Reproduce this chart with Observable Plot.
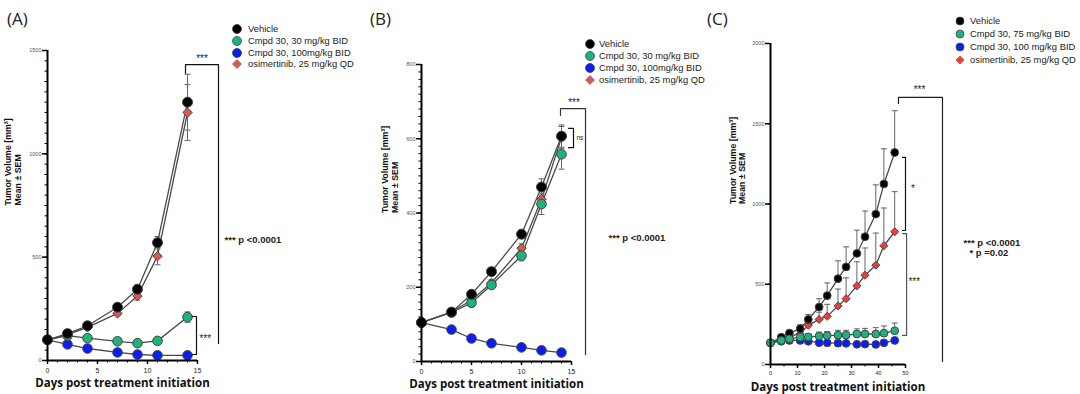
<!DOCTYPE html>
<html><head><meta charset="utf-8">
<script src="https://cdn.jsdelivr.net/npm/d3@7"></script>
<script src="https://cdn.jsdelivr.net/npm/@observablehq/plot@0.6"></script>
<style>
body{margin:0;background:#fff;}
#root{position:relative;width:1080px;height:394px;overflow:hidden;font-family:"Liberation Sans",Arial,sans-serif;background:#fff;}
.abs{position:absolute;white-space:nowrap;}
.title{font-family:"Open Sans",sans-serif;font-size:17px;color:#222;line-height:1;}
.leg{font-size:9.4px;color:#222;line-height:1;}
</style></head><body><div id="root"></div>
<script>
// ---------- Panel A ----------
const daysA = [0, 2, 4, 7, 9, 11, 14];
const vehA = [100, 130, 168, 258, 345, 570, 1250];
const vehA_sem = [5, 8, 10, 15, 20, 30, 135];
const c30A = [100, 120, 108, 93, 84, 95, 210];
const c30A_sem = [5, 6, 8, 8, 8, 10, 25];
const c100A = [100, 78, 58, 39, 29, 25, 25];
const c100A_sem = [4, 4, 4, 3, 3, 3, 3];
const osiA = [100, 125, 160, 228, 312, 505, 1200];
const osiA_sem = [5, 8, 10, 12, 20, 42, 135];
const legendA = ["Vehicle", "Cmpd 30, 30 mg/kg BID", "Cmpd 30, 100mg/kg BID", "osimertinib, 25 mg/kg QD"];
const yTicksA = [0, 500, 1000, 1500];
const xTicksA = [0, 5, 10, 15];

// ---------- Panel B ----------
const daysB = [0, 3, 5, 7, 10, 12, 14];
const vehB = [105, 133, 181, 242, 343, 470, 607];
const vehB_sem = [4, 6, 8, 8, 12, 22, 30];
const c30B = [105, 132, 158, 206, 285, 424, 558];
const c30B_sem = [4, 5, 7, 8, 14, 28, 40];
const c100B = [105, 86, 62, 49, 38, 30, 24];
const c100B_sem = [3, 3, 3, 2, 2, 2, 2];
const osiB = [105, 134, 165, 212, 305, 437, 603];
const osiB_sem = [4, 5, 7, 8, 12, 22, 30];
const legendB = ["Vehicle", "Cmpd 30, 30 mg/kg BID", "Cmpd 30, 100mg/kg BID", "osimertinib, 25 mg/kg  QD"];
const yTicksB = [0, 200, 400, 600, 800];
const xTicksB = [0, 5, 10, 15];

// ---------- Panel C ----------
const daysC = [0, 4, 7, 11, 14, 18, 21, 25, 28, 32, 35, 39, 42, 46];
const vehC = [135, 170, 196, 223, 281, 358, 429, 535, 608, 692, 796, 937, 1125, 1321];
const vehC_sem = [8, 12, 15, 25, 31, 52, 79, 111, 125, 145, 160, 182, 219, 260];
const c75C = [135, 150, 160, 170, 172, 177, 180, 183, 183, 190, 190, 190, 195, 210];
const c75C_sem = [8, 10, 12, 15, 20, 25, 25, 30, 30, 32, 35, 40, 45, 48];
const c100C = [135, 145, 150, 150, 145, 136, 135, 133, 132, 126, 127, 125, 135, 150];
const c100C_sem = [5, 6, 7, 8, 8, 8, 8, 8, 8, 8, 8, 8, 10, 12];
const osiC = [135, 160, 175, 192, 244, 281, 300, 365, 410, 490, 556, 619, 740, 827];
const osiC_sem = [8, 10, 12, 20, 30, 45, 75, 105, 130, 150, 170, 200, 235, 250];
const legendC = ["Vehicle", "Cmpd 30, 75 mg/kg BID", "Cmpd 30, 100 mg/kg BID", "osimertinib, 25 mg/kg QD"];
const yTicksC = [0, 500, 1000, 1500, 2000];
const xTicksC = [0, 10, 20, 30, 40, 50];

// significance annotations (data units)
const bracketsA = [
  {pts: [[13.8, 1390], [13.8, 1432], [17.1, 1432], [17.1, 82]], stroke: "#111"},
  {pts: [[14.5, 213], [14.9, 213], [14.9, 29], [14.5, 29]], stroke: "#111"}
];
const labelsA = [
  {x: 15.45, y: 1462, t: "***", a: "middle", s: 10, w: "normal"},
  {x: 15.2, y: 104, t: "***", a: "start", s: 10, w: "normal"},
  {x: 17.7, y: 581, t: "*** p <0.0001", a: "start", s: 9.5, w: "bold"}
];
const bracketsB = [
  {pts: [[13.9, 663], [13.9, 681], [16.4, 681], [16.4, 19]], stroke: "#333"},
  {pts: [[14.7, 628], [15.2, 628], [15.2, 576], [14.7, 576]], stroke: "#111"}
];
const labelsB = [
  {x: 15.25, y: 697, t: "***", a: "middle", s: 10, w: "normal"},
  {x: 15.5, y: 601, t: "ns", a: "start", s: 6.5, w: "normal"},
  {x: 18.7, y: 334, t: "*** p <0.0001", a: "start", s: 9.5, w: "bold"}
];
const bracketsC = [
  {pts: [[47.4, 1626], [47.4, 1664], [63.7, 1664], [63.7, 19]], stroke: "#222"},
  {pts: [[48.9, 1290], [50.0, 1290], [50.0, 835], [48.9, 835]], stroke: "#111"},
  {pts: [[48.9, 816], [50.4, 816], [50.4, 181], [48.9, 181]], stroke: "#555"}
];
const labelsC = [
  {x: 55.2, y: 1710, t: "***", a: "middle", s: 10, w: "normal"},
  {x: 52.0, y: 1092, t: "*", a: "start", s: 10, w: "normal"},
  {x: 51.1, y: 518, t: "***", a: "start", s: 10, w: "normal"},
  {x: 71.5, y: 760, t: "*** p <0.0001", a: "start", s: 9.5, w: "bold"},
  {x: 73.7, y: 692, t: "* p =0.02", a: "start", s: 9.5, w: "bold"}
];

const GREEN = "#1fb27a", BLUE = "#0a1ef0", OSI_AB = "#e0564e", OSI_C = "#f23c3a";

function rows(days, vals, sems) {
  return days.map((d, i) => ({day: d, v: vals[i], sem: sems[i]}));
}
const capSymbol = {draw(ctx, size) { const w = Math.sqrt(size / Math.PI); ctx.moveTo(-w, 0); ctx.lineTo(w, 0); }};

function panel(cfg) {
  const marks = [];
  for (const s of cfg.series) {
    marks.push(Plot.line(s.data, {x: "day", y: "v", stroke: "#4a4a4a", strokeWidth: 1.3}));
  }
  for (const s of cfg.series) {
    const lo = d => s.both ? d.v - d.sem : d.v;
    marks.push(Plot.ruleX(s.data, {x: "day", y1: lo, y2: d => d.v + d.sem, stroke: "#666", strokeWidth: 1}));
    marks.push(Plot.dot(s.data, {x: "day", y: d => d.v + d.sem, symbol: capSymbol, r: cfg.cap, stroke: "#666", strokeWidth: 1, fill: "none"}));
    if (s.both) marks.push(Plot.dot(s.data, {x: "day", y: lo, symbol: capSymbol, r: cfg.cap, stroke: "#666", strokeWidth: 1, fill: "none"}));
  }
  for (const s of cfg.series) {
    marks.push(Plot.dot(s.data, {x: "day", y: "v", symbol: s.symbol, r: s.r, fill: s.fill, stroke: "#454545", strokeWidth: 1}));
  }
  marks.push(
    Plot.axisY({ticks: cfg.yMinor, tickSize: 2.5, tickFormat: () => "", label: null, strokeWidth: 1}),
    Plot.axisY({ticks: cfg.yTicks, tickSize: 5, tickPadding: 1, fontSize: 5.5, fill: "#555", strokeWidth: 1.5, tickFormat: d3.format("d"), label: null}),
    Plot.axisX({ticks: cfg.xMinor, tickSize: 2.5, tickFormat: () => "", label: null, strokeWidth: 1}),
    Plot.axisX({ticks: cfg.xTicks, tickSize: 4, tickPadding: cfg.xPad, fontSize: cfg.xFont, fill: "#222", strokeWidth: 1.5, tickFormat: d3.format("d"), label: null}),
    Plot.ruleX([0], {strokeWidth: 2, stroke: "#000"}),
    Plot.ruleY([0], {strokeWidth: 2, stroke: "#000"})
  );
  marks.push(
    Plot.text(["Days post treatment initiation"], {frameAnchor: "bottom", dy: 26, text: d => d, fontSize: 11.5, fontWeight: "bold", fill: "#111", fontFamily: "Open Sans"}),
    Plot.text(["Tumor Volume [mm³]"], {frameAnchor: "left", dx: cfg.ylab1, text: d => d, rotate: -90, fontSize: 8.8, fontWeight: "bold", fill: "#111"}),
    Plot.text(["Mean ± SEM"], {frameAnchor: "left", dx: cfg.ylab2, text: d => d, rotate: -90, fontSize: 8.8, fontWeight: "bold", fill: "#111"})
  );
  for (const b of cfg.brackets) {
    marks.push(Plot.line(b.pts, {stroke: b.stroke, strokeWidth: 1.2}));
  }
  for (const l of cfg.labels) {
    marks.push(Plot.text([l], {x: "x", y: "y", text: "t", textAnchor: l.a, fontSize: l.s, fontWeight: l.w, fill: "#222"}));
  }
  const svg = Plot.plot({
    width: cfg.width, height: 394,
    marginLeft: cfg.ml, marginRight: cfg.mr, marginTop: cfg.mt, marginBottom: cfg.mb,
    x: {domain: cfg.xDomain}, y: {domain: cfg.yDomain},
    style: {fontFamily: "Liberation Sans, Arial, sans-serif", overflow: "visible", background: "none"},
    marks
  });
  svg.style.position = "absolute";
  svg.style.left = cfg.left + "px";
  svg.style.top = "0px";
  return svg;
}

const root = document.getElementById("root");

root.appendChild(panel({
  left: 0, width: 360, ml: 47, mr: 163, mt: 50, mb: 34,
  xDomain: [0, 15], yDomain: [0, 1500], xFont: 7, xPad: 4,
  xTicks: xTicksA, xMinor: d3.range(0, 16, 1), yTicks: yTicksA, yMinor: d3.range(0, 1501, 50),
  ylab1: -39, ylab2: -29, cap: 3,
  series: [
    {data: rows(daysA, c100A, c100A_sem), fill: BLUE, symbol: "circle", r: 4.8, both: true},
    {data: rows(daysA, c30A, c30A_sem), fill: GREEN, symbol: "circle", r: 4.8, both: true},
    {data: rows(daysA, osiA, osiA_sem), fill: OSI_AB, symbol: "diamond2", r: 4.2, both: true},
    {data: rows(daysA, vehA, vehA_sem), fill: "#000", symbol: "circle", r: 5, both: true}
  ],
  brackets: bracketsA, labels: labelsA
}));

root.appendChild(panel({
  left: 360, width: 340, ml: 61, mr: 129, mt: 64, mb: 33,
  xDomain: [0, 15], yDomain: [0, 800], xFont: 7, xPad: 4,
  xTicks: xTicksB, xMinor: d3.range(0, 16, 1), yTicks: yTicksB, yMinor: d3.range(0, 801, 20),
  ylab1: -36, ylab2: -26, cap: 3,
  series: [
    {data: rows(daysB, c100B, c100B_sem), fill: BLUE, symbol: "circle", r: 4.8, both: true},
    {data: rows(daysB, osiB, osiB_sem), fill: OSI_AB, symbol: "diamond2", r: 4.2, both: true},
    {data: rows(daysB, c30B, c30B_sem), fill: GREEN, symbol: "circle", r: 4.8, both: true},
    {data: rows(daysB, vehB, vehB_sem), fill: "#000", symbol: "circle", r: 5, both: true}
  ],
  brackets: bracketsB, labels: labelsB
}));

root.appendChild(panel({
  left: 700, width: 380, ml: 70, mr: 175, mt: 43, mb: 30,
  xDomain: [0, 50], yDomain: [0, 2000], xFont: 5.5, xPad: 3,
  xTicks: xTicksC, xMinor: d3.range(0, 51, 5), yTicks: yTicksC, yMinor: yTicksC,
  ylab1: -37, ylab2: -28, cap: 3,
  series: [
    {data: rows(daysC, osiC, osiC_sem), fill: OSI_C, symbol: "diamond2", r: 3.6, both: false},
    {data: rows(daysC, vehC, vehC_sem), fill: "#000", symbol: "circle", r: 3.9, both: false},
    {data: rows(daysC, c100C, c100C_sem), fill: BLUE, symbol: "circle", r: 3.9, both: false},
    {data: rows(daysC, c75C, c75C_sem), fill: GREEN, symbol: "circle", r: 3.9, both: false}
  ],
  brackets: bracketsC, labels: labelsC
}));

[["(A)", 7], ["(B)", 370], ["(C)", 707]].forEach(([t, x]) => {
  const d = document.createElement("div");
  d.className = "abs title"; d.textContent = t;
  d.style.left = x + "px"; d.style.top = "10px";
  root.appendChild(d);
});

function legend(labels, x, ys, textX, fills, osiStroke, r) {
  labels.forEach((lab, i) => {
    const m = document.createElementNS("http://www.w3.org/2000/svg", "svg");
    m.setAttribute("width", 12); m.setAttribute("height", 12);
    m.style.position = "absolute"; m.style.left = (x - 6) + "px"; m.style.top = (ys[i] - 6) + "px";
    let shape;
    if (i === 3) {
      shape = document.createElementNS("http://www.w3.org/2000/svg", "path");
      shape.setAttribute("d", `M6 ${6 - r}L${6 + r} 6L6 ${6 + r}L${6 - r} 6Z`);
    } else {
      shape = document.createElementNS("http://www.w3.org/2000/svg", "circle");
      shape.setAttribute("cx", 6); shape.setAttribute("cy", 6); shape.setAttribute("r", r);
    }
    shape.setAttribute("fill", fills[i]);
    shape.setAttribute("stroke", i === 3 ? osiStroke : "#444");
    shape.setAttribute("stroke-width", 0.8);
    m.appendChild(shape);
    root.appendChild(m);
    const t = document.createElement("div");
    t.className = "abs leg"; t.textContent = lab;
    t.style.left = textX + "px"; t.style.top = (ys[i] - 5.5) + "px";
    root.appendChild(t);
  });
}
legend(legendA, 237, [29, 41, 53, 64], 248, ["#000", GREEN, BLUE, OSI_AB], "#777", 4.5);
legend(legendB, 590, [44, 56, 68, 80], 599, ["#000", GREEN, BLUE, OSI_AB], "#777", 4.5);
legend(legendC, 960, [21, 34, 47, 60], 970, ["#000", GREEN, BLUE, OSI_C], OSI_C, 4);
</script></body></html>
